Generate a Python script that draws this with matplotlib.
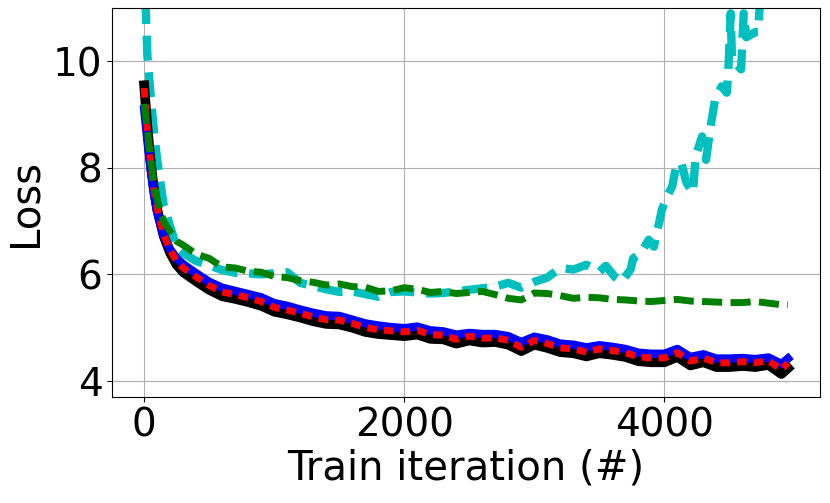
import numpy as np
import matplotlib
matplotlib.use('Agg')
import matplotlib.pyplot as plt

# iteracoes registradas (curvas principais)
iters = [0, 25, 50, 75, 100, 150, 200, 250] + list(range(300, 5000, 100)) + [4950]

loss_red = [9.5, 8.7, 8.1, 7.6, 7.25, 6.75, 6.45, 6.25,
            6.12, 5.95, 5.79, 5.67, 5.62, 5.56, 5.49, 5.38, 5.33, 5.27,
            5.2, 5.15, 5.14, 5.08, 5.0, 4.96, 4.94, 4.92, 4.95, 4.87,
            4.86, 4.78, 4.84, 4.8, 4.81, 4.76, 4.63, 4.76, 4.7, 4.62,
            4.6, 4.54, 4.6, 4.57, 4.53, 4.45, 4.43, 4.43, 4.53, 4.37,
            4.43, 4.34, 4.34, 4.36, 4.34, 4.38, 4.21, 4.34]

loss_blue = [9.1, 8.5, 7.95, 7.5, 7.17, 6.72, 6.47, 6.3,
             6.19, 6.02, 5.86, 5.75, 5.69, 5.63, 5.57, 5.46, 5.41, 5.34,
             5.28, 5.23, 5.22, 5.15, 5.08, 5.04, 5.01, 4.99, 5.02, 4.95,
             4.93, 4.87, 4.9, 4.88, 4.88, 4.84, 4.73, 4.83, 4.78, 4.7,
             4.68, 4.63, 4.67, 4.64, 4.6, 4.53, 4.51, 4.51, 4.6, 4.45,
             4.5, 4.42, 4.42, 4.43, 4.41, 4.44, 4.32, 4.42]

loss_black = [9.55, 8.75, 8.1, 7.6, 7.22, 6.72, 6.4, 6.18,
              6.04, 5.87, 5.71, 5.59, 5.54, 5.48, 5.41, 5.3, 5.25, 5.19,
              5.12, 5.07, 5.06, 5.0, 4.92, 4.88, 4.86, 4.84, 4.87, 4.79,
              4.78, 4.7, 4.76, 4.72, 4.73, 4.68, 4.56, 4.68, 4.62, 4.54,
              4.52, 4.46, 4.52, 4.49, 4.45, 4.37, 4.35, 4.35, 4.45, 4.29,
              4.35, 4.26, 4.26, 4.28, 4.26, 4.3, 4.13, 4.24]

loss_green = [9.2, 8.7, 8.15, 7.7, 7.4, 7.0, 6.8, 6.62,
              6.55, 6.38, 6.3, 6.14, 6.12, 6.06, 6.04, 5.96, 5.94, 5.88,
              5.85, 5.8, 5.82, 5.77, 5.76, 5.68, 5.69, 5.75, 5.72, 5.66,
              5.68, 5.64, 5.66, 5.68, 5.62, 5.55, 5.52, 5.65, 5.64, 5.6,
              5.55, 5.57, 5.56, 5.53, 5.52, 5.5, 5.49, 5.51, 5.53, 5.5,
              5.49, 5.48, 5.47, 5.47, 5.49, 5.46, 5.43, 5.43]

# a curva ciano diverge no fim, registrada com mais detalhe
iters_cyan = [0, 25, 50, 75, 100, 150, 200, 250, 300, 400, 500, 600, 700,
              800, 900, 1000, 1100, 1200, 1300, 1400, 1500, 1600, 1700, 1800,
              1900, 2000, 2100, 2200, 2300, 2400, 2500, 2600, 2700, 2800,
              2900, 3000, 3100, 3200, 3300, 3400, 3500, 3550, 3620, 3670,
              3740, 3760, 3820, 3880, 3920, 3940, 3960, 3980, 4020, 4060,
              4090, 4130, 4170, 4220, 4240, 4290, 4320, 4360, 4390, 4440,
              4480, 4490, 4510, 4520, 4590, 4610, 4630, 4700, 4720, 4740, 4800]

loss_cyan = [11.8, 10.1, 9.35, 8.7, 8.15, 7.3, 6.9, 6.5, 6.4, 6.25, 6.17,
             6.08, 6.03, 6.02, 6.0, 6.02, 6.04, 5.84, 5.78, 5.72, 5.67, 5.68,
             5.63, 5.58, 5.67, 5.68, 5.66, 5.64, 5.65, 5.68, 5.71, 5.74,
             5.77, 5.84, 5.75, 5.86, 5.94, 6.12, 6.09, 6.18, 6.05, 6.16,
             5.95, 5.86, 6.09, 6.3, 6.4, 6.65, 6.52, 6.78, 6.97, 7.21,
             7.46, 7.65, 8.02, 8.1, 7.72, 7.53, 8.21, 8.59, 8.15, 8.85,
             9.28, 9.53, 9.41, 9.72, 10.9, 10.03, 9.85, 10.9, 10.45, 10.55,
             10.55, 11.3, 12.5]

plt.rcParams['font.size'] = 28

fig = plt.figure(figsize=(8.3, 5.03), dpi=100)
ax = fig.add_axes([0.135, 0.211, 0.853, 0.773])

ax.plot(iters_cyan, loss_cyan, color='c', lw=6, dashes=(3.0, 1.4))
ax.plot(iters, loss_black, color='k', lw=7)
ax.plot(iters, loss_blue, color='b', lw=6)
ax.plot(iters, loss_red, color='r', lw=5, dashes=(1.4, 1.0))
ax.plot(iters, loss_green, color='g', lw=5, dashes=(2.9, 1.2))

ax.set_xlim(-247, 5197)
ax.set_ylim(3.7, 11)
ax.set_xticks([0, 2000, 4000])
ax.set_yticks([4, 6, 8, 10])
ax.grid(True)
ax.set_xlabel('Train iteration (#)', fontsize=29, labelpad=3)
ax.set_ylabel('Loss', fontsize=29, labelpad=5)

fig.savefig('out.png', dpi=100)
